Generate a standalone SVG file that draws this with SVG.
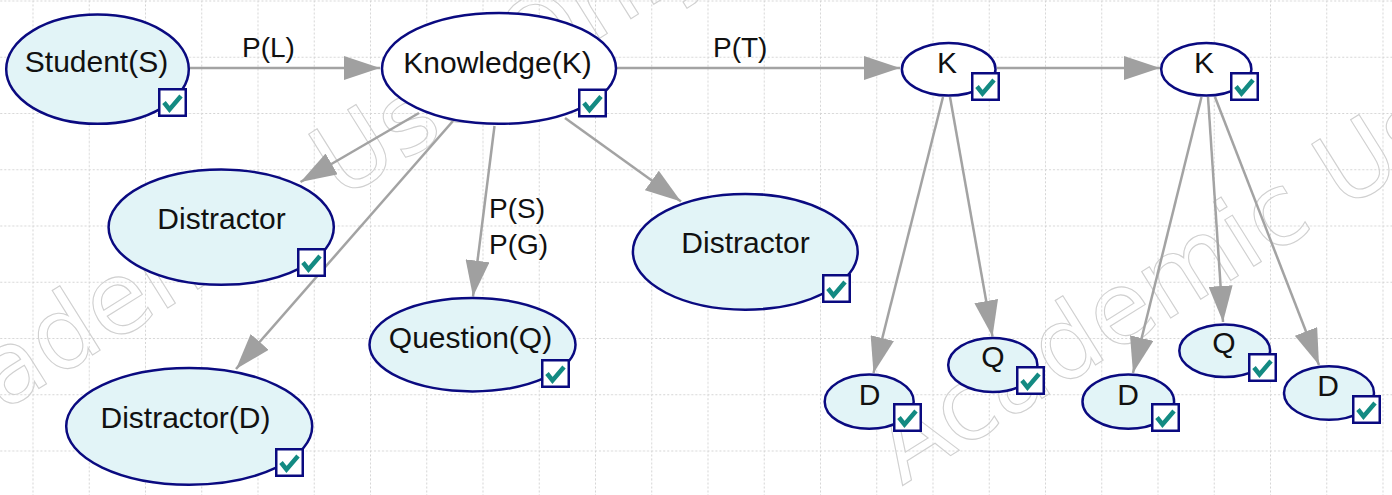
<svg xmlns="http://www.w3.org/2000/svg" width="1392" height="495" viewBox="0 0 1392 495">
<style>
.node ellipse{stroke:#0a0a80;stroke-width:2.5}
.lt{fill:#e2f4f7}
.wt{fill:#ffffff}
.lbl{font-family:"Liberation Sans",Arial,sans-serif;font-size:30px;fill:#111;text-anchor:middle}
.elbl{font-family:"Liberation Sans",Arial,sans-serif;font-size:28px;fill:#111}
.edge{stroke:#a3a3a3;stroke-width:2.5;fill:none;marker-end:url(#arr)}
.wm{font-family:"DejaVu Sans",sans-serif;font-size:100px;fill:none;stroke:#d0d0d0;stroke-width:1.1}
</style>
<defs>
<pattern id="grid" patternUnits="userSpaceOnUse" x="32.5" y="0.5" width="56.25" height="56.25">
<path d="M0.5,0V56.25M0,0.5H56.25" stroke="#d4d4d4" stroke-width="1" stroke-dasharray="2 2" fill="none"/>
</pattern>
<marker id="arr" markerUnits="userSpaceOnUse" markerWidth="36" markerHeight="24" viewBox="0 0 36 24" refX="36" refY="12" orient="auto">
<path d="M0,0L36,12L0,24z" fill="#a0a0a0"/>
</marker>
<g id="cb">
<rect x="1.25" y="1.25" width="26.5" height="26.5" fill="#fff" stroke="#0a0a80" stroke-width="2.5"/>
<path d="M6,14.5L11.5,21.5L23,8" fill="none" stroke="#138a82" stroke-width="4.5"/>
</g>
</defs>
<rect width="1392" height="495" fill="#fff"/>
<rect width="1392" height="495" fill="url(#grid)"/>
<g id="watermark">
<text class="wm" transform="translate(-101,476) rotate(-32)">Academic Use Only</text>
<text class="wm" transform="translate(902,486) rotate(-32)">Academic Use Only</text>
</g>
<g id="connectors">
<path class="edge" d="M190,68H380"/>
<path class="edge" d="M617,68H900"/>
<path class="edge" d="M997,68H1160"/>
<path class="edge" d="M419,113L300.5,182"/>
<path class="edge" d="M453,121L236,369"/>
<path class="edge" d="M494.5,126L473,296.5"/>
<path class="edge" d="M565,118L681,201.5"/>
<path class="edge" d="M943,97L873.5,373"/>
<path class="edge" d="M950,97L992.5,336.5"/>
<path class="edge" d="M1201.5,97L1133,373"/>
<path class="edge" d="M1208,97L1223,322"/>
<path class="edge" d="M1215,97L1319,365"/>
<text class="elbl" x="242" y="57">P(L)</text>
<text class="elbl" x="713" y="57">P(T)</text>
<text class="elbl" x="489" y="218">P(S)</text>
<text class="elbl" x="489" y="254">P(G)</text>
</g>
<g id="student" class="node">
<ellipse class="lt" cx="97.5" cy="69.2" rx="91.3" ry="54.6"/>
<text class="lbl" x="96.5" y="72">Student(S)</text>
<use href="#cb" x="158" y="88"/>
</g>
<g id="knowledge" class="node">
<ellipse class="wt" cx="499" cy="68.4" rx="117" ry="55.4"/>
<text class="lbl" x="497.5" y="73">Knowledge(K)</text>
<use href="#cb" x="578" y="88.5"/>
</g>
<g id="distractor1" class="node">
<ellipse class="lt" cx="221.2" cy="227.2" rx="112.6" ry="57.6"/>
<text class="lbl" x="221.5" y="229">Distractor</text>
<use href="#cb" x="297" y="248"/>
</g>
<g id="distractorD" class="node">
<ellipse class="lt" cx="189.2" cy="426.3" rx="123" ry="58.4"/>
<text class="lbl" x="185.5" y="428">Distractor(D)</text>
<use href="#cb" x="275" y="448"/>
</g>
<g id="question" class="node">
<ellipse class="lt" cx="472.5" cy="344.7" rx="103" ry="46.7"/>
<text class="lbl" x="470.5" y="348">Question(Q)</text>
<use href="#cb" x="541" y="359"/>
</g>
<g id="distractor2" class="node">
<ellipse class="lt" cx="745.3" cy="251.8" rx="112.4" ry="57.9"/>
<text class="lbl" x="745.5" y="253">Distractor</text>
<use href="#cb" x="822" y="274"/>
</g>
<g id="k1" class="node">
<ellipse class="wt" cx="948.7" cy="69.2" rx="46.8" ry="26.3"/>
<text class="lbl" x="947" y="73">K</text>
<use href="#cb" x="971" y="72"/>
</g>
<g id="k2" class="node">
<ellipse class="wt" cx="1206.3" cy="69.2" rx="45.1" ry="26.3"/>
<text class="lbl" x="1204" y="73">K</text>
<use href="#cb" x="1230" y="72"/>
</g>
<g id="d1" class="node">
<ellipse class="lt" cx="869.2" cy="401.7" rx="44.5" ry="27.1"/>
<text class="lbl" x="869.5" y="405">D</text>
<use href="#cb" x="893" y="403"/>
</g>
<g id="q1" class="node">
<ellipse class="lt" cx="992.8" cy="365" rx="44.6" ry="27.1"/>
<text class="lbl" x="993" y="367">Q</text>
<use href="#cb" x="1016" y="366"/>
</g>
<g id="d2" class="node">
<ellipse class="lt" cx="1128.3" cy="401.7" rx="45.8" ry="27.1"/>
<text class="lbl" x="1128" y="405">D</text>
<use href="#cb" x="1151" y="403"/>
</g>
<g id="q2" class="node">
<ellipse class="lt" cx="1224.7" cy="350.8" rx="45.4" ry="26.3"/>
<text class="lbl" x="1224" y="353">Q</text>
<use href="#cb" x="1248" y="353"/>
</g>
<g id="d3" class="node">
<ellipse class="lt" cx="1329" cy="393" rx="45" ry="26.8"/>
<text class="lbl" x="1328" y="396">D</text>
<use href="#cb" x="1352" y="395"/>
</g>
</svg>
